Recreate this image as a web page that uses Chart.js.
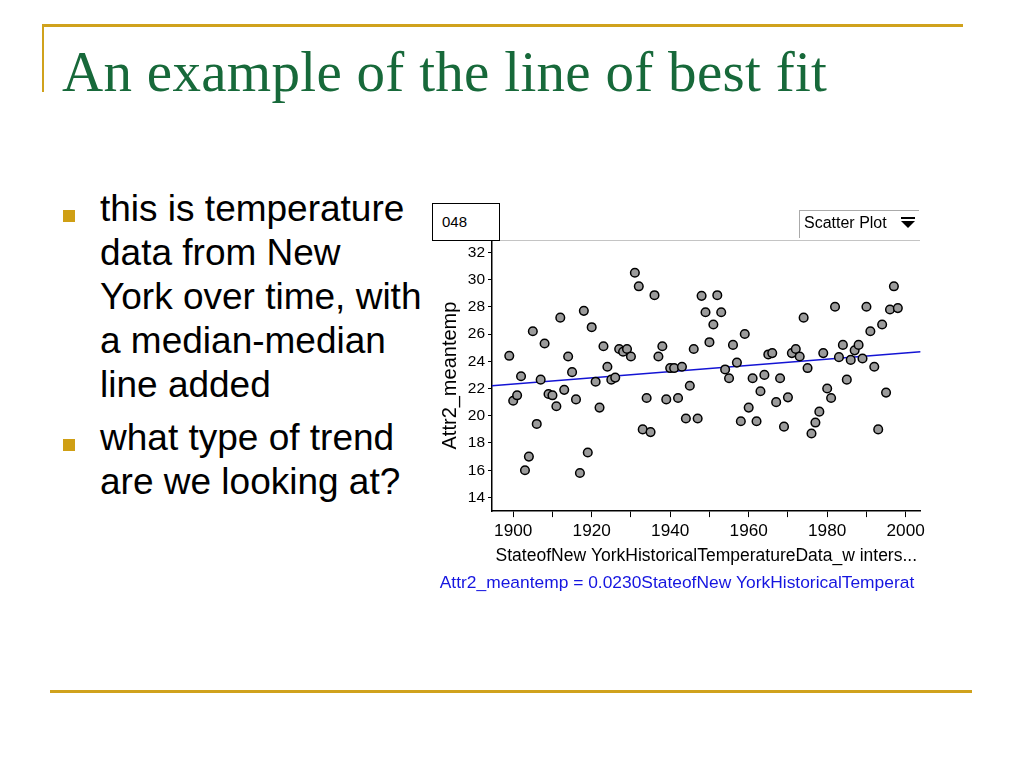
<!DOCTYPE html>
<html>
<head>
<meta charset="utf-8">
<script src="https://cdn.jsdelivr.net/npm/chart.js@4.4.1/dist/chart.umd.min.js"></script>
<style>
  html, body { margin: 0; padding: 0; background: #fff; }
  body { width: 1024px; height: 768px; position: relative; overflow: hidden; font-family: "Liberation Sans", Arial, sans-serif; }
  .gold { position: absolute; background: #d0a21c; }
  #title { position: absolute; left: 62px; top: 43px; font-family: "Liberation Serif", "Times New Roman", serif; font-size: 57px; line-height: 57px; letter-spacing: 0.3px; color: #17693a; white-space: nowrap; }
  .bullet { position: absolute; left: 100px; font-size: 37px; line-height: 44px; color: #000; white-space: nowrap; }
  .sq { position: absolute; left: 63px; width: 12px; height: 12px; background: #cf9f14; }
  #box048 { position: absolute; left: 432px; top: 203px; width: 68px; height: 38px; border: 1.5px solid #000; background: #fff; font-size: 15px; line-height: 35px; padding-left: 9px; box-sizing: border-box; }
  #plotMenu { position: absolute; left: 799px; top: 210px; width: 120px; height: 28px; border-left: 1px solid #aaa; border-top: 1px solid #aaa; font-size: 16px; line-height: 24px; padding-left: 4px; box-sizing: border-box; white-space: nowrap; }
  #tri { position: absolute; left: 101px; top: 10px; width: 0; height: 0; border-left: 7px solid transparent; border-right: 7px solid transparent; border-top: 7px solid #000; }
  #triBar { position: absolute; left: 101px; top: 6px; width: 14px; height: 2px; background: #000; }
  #topRule { position: absolute; left: 492px; top: 240px; width: 428px; height: 1px; background: #c4c4c4; }
  #wrap { position: absolute; left: 430px; top: 200px; width: 499px; height: 402px; }
</style>
</head>
<body>
<div class="gold" style="left:42px; top:24px; width:921px; height:3px;"></div>
<div class="gold" style="left:42px; top:24px; width:2px; height:68px;"></div>
<div class="gold" style="left:50px; top:690px; width:922px; height:3px;"></div>

<div id="title">An example of the line of best fit</div>

<div class="sq" style="top:210px;"></div>
<div class="bullet" style="top:187px;">this is temperature<br>data from New<br>York over time, with<br>a median-median<br>line added</div>
<div class="sq" style="top:439px;"></div>
<div class="bullet" style="top:416px;">what type of trend<br>are we looking at?</div>

<div id="wrap"><canvas id="tempChart" width="499" height="402"></canvas></div>
<div id="topRule"></div>
<div id="box048">048</div>
<div id="plotMenu">Scatter Plot<div id="triBar"></div><div id="tri"></div></div>

<script>
// winter mean temperatures, one point per year
const years = [
  1899, 1900, 1901, 1902, 1903, 1904, 1905, 1906, 1907, 1908,
  1909, 1910, 1911, 1912, 1913, 1914, 1915, 1916, 1917, 1918,
  1919, 1920, 1921, 1922, 1923, 1924, 1925, 1926, 1927, 1928,
  1929, 1930, 1931, 1932, 1933, 1934, 1935, 1936, 1937, 1938,
  1939, 1940, 1941, 1942, 1943, 1944, 1945, 1946, 1947, 1948,
  1949, 1950, 1951, 1952, 1953, 1954, 1955, 1956, 1957, 1958,
  1959, 1960, 1961, 1962, 1963, 1964, 1965, 1966, 1967, 1968,
  1969, 1970, 1971, 1972, 1973, 1974, 1975, 1976, 1977, 1978,
  1979, 1980, 1981, 1982, 1983, 1984, 1985, 1986, 1987, 1988,
  1989, 1990, 1991, 1992, 1993, 1994, 1995, 1996, 1997, 1998
];
const meanTemp = [
  24.4, 21.1, 21.5, 22.9, 16.0, 17.0, 26.2, 19.4, 22.65, 25.3,
  21.6, 21.5, 20.7, 27.2, 21.9, 24.35, 23.2, 21.2, 15.8, 27.7,
  17.3, 26.5, 22.5, 20.6, 25.1, 23.6, 22.65, 22.8, 24.9, 24.7,
  24.9, 24.35, 30.5, 29.5, 19.0, 21.3, 18.8, 28.85, 24.35, 25.1,
  21.2, 23.5, 23.5, 21.3, 23.6, 19.8, 22.2, 24.9, 19.8, 28.8,
  27.6, 25.4, 26.7, 28.85, 27.6, 23.4, 22.75, 25.2, 23.9, 19.6,
  26.0, 20.6, 22.75, 19.6, 21.8, 23.0, 24.5, 24.6, 21.0, 22.75,
  19.2, 21.35, 24.6, 24.9, 24.35, 27.2, 23.5, 18.7, 19.5, 20.3,
  24.6, 22.0, 21.3, 28.0, 24.3, 25.2, 22.65, 24.1, 24.8, 25.2,
  24.2, 28.0, 26.2, 23.6, 19.0, 26.7, 21.7, 27.8, 29.5, 27.9
];

// median-median line, read at the two ends of the plot
const fitX = [1894.6, 2003.8];
const fitY = [22.2, 24.7];

const xLabelYears = [1900, 1920, 1940, 1960, 1980, 2000];
const xTitle = 'StateofNew YorkHistoricalTemperatureData_w inters...';
const yTitle = 'Attr2_meantemp';
const equation = 'Attr2_meantemp = 0.0230StateofNew YorkHistoricalTemperat';

const ctx = document.getElementById('tempChart').getContext('2d');
new Chart(ctx, {
  type: 'scatter',
  data: {
    datasets: [{
      type: 'scatter',
      data: years.map((yr, i) => ({ x: yr, y: meanTemp[i] })),
      backgroundColor: '#9b9b9b',
      borderColor: '#000',
      borderWidth: 1.5,
      pointRadius: 4.3,
      order: 0
    }, {
      type: 'line',
      data: fitX.map((v, i) => ({ x: v, y: fitY[i] })),
      borderColor: '#1414d4',
      borderWidth: 1.5,
      pointRadius: 0,
      fill: false,
      order: 1
    }]
  },
  options: {
    responsive: false,
    animation: false,
    layout: { padding: { top: 40, right: 5, left: 0, bottom: 0 } },
    plugins: {
      legend: { display: false },
      tooltip: { enabled: false },
      title: {
        display: true,
        position: 'bottom',
        text: equation,
        color: '#1515e0',
        font: { family: 'Liberation Sans', size: 17.4, weight: 'normal' },
        padding: { top: 4, bottom: 8 }
      }
    },
    scales: {
      x: {
        type: 'linear',
        min: 1894.6,
        max: 2003.8,
        afterFit: s => { s.height = 58; },
        ticks: {
          stepSize: 10,
          includeBounds: false,
          autoSkip: false,
          maxRotation: 0,
          padding: 4,
          color: '#000',
          font: { family: 'Liberation Sans', size: 17.2 },
          callback: v => xLabelYears.includes(v) ? String(v) : ''
        },
        grid: { drawOnChartArea: false, tickLength: 6, color: '#000' },
        border: { color: '#000', width: 1.5 },
        title: {
          display: true,
          text: xTitle,
          color: '#000',
          font: { family: 'Liberation Sans', size: 17.5 },
          padding: { top: 0, bottom: 2 }
        }
      },
      y: {
        min: 13,
        max: 32.9,
        afterFit: s => { s.width = 62; },
        ticks: {
          stepSize: 2,
          includeBounds: false,
          padding: 3,
          color: '#000',
          font: { family: 'Liberation Sans', size: 15.5 }
        },
        grid: { drawOnChartArea: false, tickLength: 4, color: '#000' },
        border: { color: '#000', width: 1.5 },
        title: {
          display: true,
          text: yTitle,
          color: '#000',
          font: { family: 'Liberation Sans', size: 20 },
          padding: { top: 8, bottom: 0 }
        }
      }
    }
  }
});
</script>
</body>
</html>
